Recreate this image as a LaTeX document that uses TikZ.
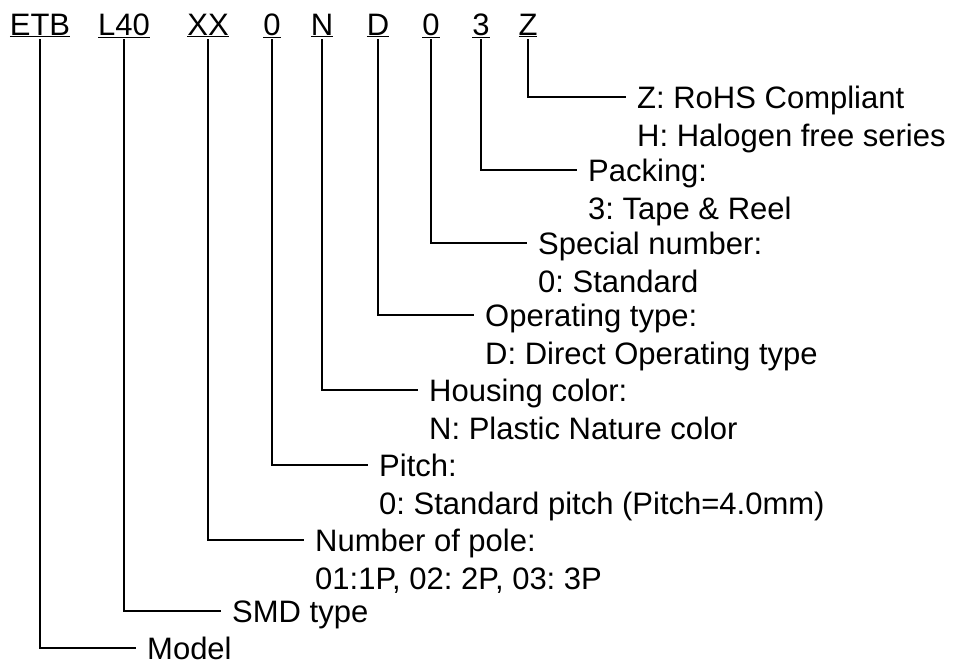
\documentclass[tikz,border=0pt]{standalone}
\usepackage{fontspec}
\setmainfont{Liberation Sans}
\frenchspacing
\begin{document}
\begin{tikzpicture}[x=1pt,y=-1pt,
    code/.style={inner sep=0pt,outer sep=2pt,anchor=base,font=\fontsize{31}{38}\selectfont},
    desc/.style={inner xsep=11pt,inner ysep=0pt,anchor=west,text height=22pt,text depth=0pt,font=\fontsize{31}{38}\selectfont},
    wire/.style={line width=1.3pt}]
    \useasboundingbox (0,0) rectangle (958,662);
    % Part number
    \node[code] (etb) at (40,35) {\underline{ETB}};
    \node[code] (series) at (124,35) {\underline{L40}};
    \node[code] (pole) at (208,35) {\underline{XX}};
    \node[code] (pitch) at (272,35) {\underline{0}};
    \node[code] (housing) at (322,35) {\underline{N}};
    \node[code] (operating) at (378,35) {\underline{D}};
    \node[code] (special) at (431,35) {\underline{0}};
    \node[code] (packing) at (481,35) {\underline{3}};
    \node[code] (rohs) at (528,35) {\underline{Z}};
    % Descriptions
    \node[desc] (rohsdesc) at (626,97) {Z: RoHS Compliant};
    \node[desc] at (626,135) {H: Halogen free series};
    \node[desc] (packingdesc) at (577,170) {Packing:};
    \node[desc] at (577,208) {3: Tape \& Reel};
    \node[desc] (specialdesc) at (527,243) {Special number:};
    \node[desc] at (527,281) {0: Standard};
    \node[desc] (operatingdesc) at (474,315) {Operating type:};
    \node[desc] at (474,353) {D: Direct Operating type};
    \node[desc] (housingdesc) at (418,390) {Housing color:};
    \node[desc] at (418,428) {N: Plastic Nature color};
    \node[desc] (pitchdesc) at (368,465) {Pitch:};
    \node[desc] at (368,503) {0: Standard pitch (Pitch=4.0mm)};
    \node[desc] (poledesc) at (304,540) {Number of pole:};
    \node[desc] at (304,578) {01:1P, 02: 2P, 03: 3P};
    \node[desc] (seriesdesc) at (221,611) {SMD type};
    \node[desc] (etbdesc) at (136,648) {Model};
    % Connectors
    \foreach \part in {etb,series,pole,pitch,housing,operating,special,packing,rohs}
        \draw[wire] (\part) |- (\part desc);
\end{tikzpicture}
\end{document}
